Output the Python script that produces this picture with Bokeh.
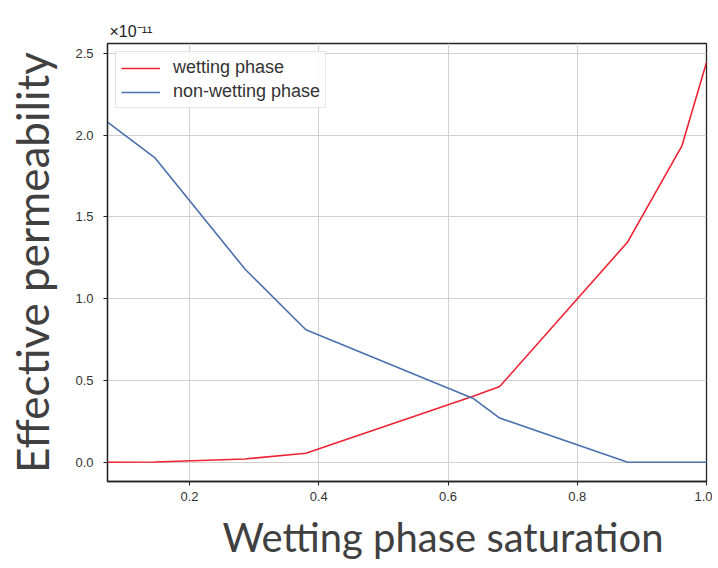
from bokeh.plotting import figure
from bokeh.models import Range1d, FixedTicker, NumeralTickFormatter, Title
from bokeh.embed import file_html
from bokeh.resources import INLINE

# Wetting phase saturation (x) and effective permeability (units of 1e-11)
saturation = [0.073, 0.146, 0.286, 0.38, 0.64, 0.68, 0.878, 0.962, 1.0]
wetting = [0.0, 0.001, 0.02, 0.055, 0.405, 0.463, 1.347, 1.935, 2.445]
non_wetting = [2.08, 1.863, 1.18, 0.81, 0.388, 0.27, 0.0, 0.0, 0.0]

x_ticks = [0.2, 0.4, 0.6, 0.8, 1.0]
y_ticks = [0.0, 0.5, 1.0, 1.5, 2.0, 2.5]
scale_text = "×10⁻¹¹"
series_names = ["wetting phase", "non-wetting phase"]
x_title = "Wetting phase saturation"
y_title = "Effective permeability"

y0, y1 = -0.118, 2.561

p = figure(width=712, height=568, output_backend="svg", toolbar_location=None,
           x_range=Range1d(saturation[0], saturation[-1]),
           y_range=Range1d(y0, y1),
           min_border_left=107, min_border_right=6,
           min_border_top=43, min_border_bottom=87,
           background_fill_color="white", border_fill_color="white")

p.line(saturation, wetting, line_color="#ee2233", line_width=1.6,
       legend_label=series_names[0])
p.line(saturation, non_wetting, line_color="#4a70ad", line_width=1.6,
       legend_label=series_names[1])

# axes
p.xaxis.ticker = FixedTicker(ticks=x_ticks)
p.yaxis.ticker = FixedTicker(ticks=y_ticks)
p.xaxis.formatter = NumeralTickFormatter(format="0.0")
p.yaxis.formatter = NumeralTickFormatter(format="0.0")
for ax in (p.xaxis, p.yaxis):
    ax.major_tick_out = 4
    ax.major_tick_in = 0
    ax.minor_tick_line_color = None
    ax.major_tick_line_color = "#222222"
    ax.axis_line_color = "#222222"
    ax.axis_line_width = 1.3
    ax.major_label_text_font = "Liberation Sans"
    ax.major_label_text_font_size = "13px"
    ax.major_label_text_color = "#333333"
p.xaxis.major_label_standoff = 6
p.yaxis.major_label_standoff = 10

p.yaxis.axis_label = y_title
p.yaxis.axis_label_standoff = 14
p.yaxis.axis_label_text_font = "Lato"
p.yaxis.axis_label_text_font_size = "44px"
p.yaxis.axis_label_text_font_style = "normal"
p.yaxis.axis_label_text_color = "#404040"

p.outline_line_color = "#222222"
p.outline_line_width = 1.3
p.grid.grid_line_color = "#d0d0d0"
p.grid.grid_line_width = 1

# legend
lg = p.legend[0]
lg.location = "top_left"
lg.margin = 8
lg.padding = 5
lg.spacing = 3
lg.glyph_width = 39
lg.glyph_height = 20
lg.label_height = 20
lg.label_standoff = 13
lg.label_text_font = "Liberation Sans"
lg.label_text_font_size = "18px"
lg.label_text_color = "#333333"
lg.border_line_color = "#cccccc"
lg.border_line_width = 1
lg.background_fill_alpha = 0.85

# offset (scale) text
p.add_layout(Title(text=scale_text, align="left", text_font="Liberation Sans",
                   text_font_size="16px", text_font_style="normal",
                   text_color="#222222", offset=2, standoff=7), "above")

# large x title
p.add_layout(Title(text=x_title, align="right", offset=43, standoff=14,
                   text_font="Lato", text_font_size="40px",
                   text_font_style="normal", text_color="#404040"), "below")

open("out.html", "w").write(file_html(p, INLINE))
